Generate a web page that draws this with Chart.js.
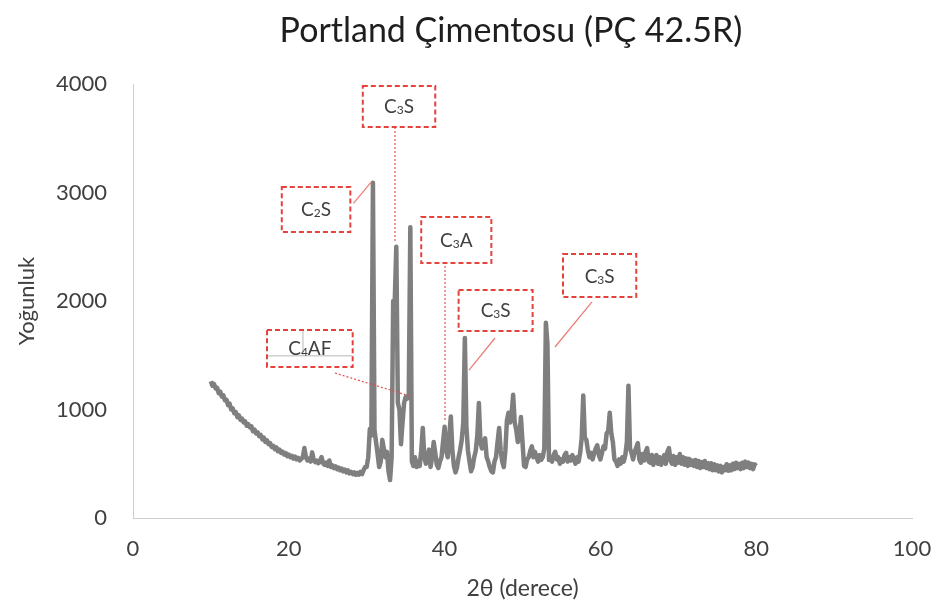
<!DOCTYPE html>
<html>
<head>
<meta charset="utf-8">
<script src="https://cdn.jsdelivr.net/npm/chart.js@4.4.1/dist/chart.umd.min.js"></script>
<style>
  html, body { margin: 0; padding: 0; background: #ffffff; }
  #wrap { width: 938px; height: 610px; }
</style>
</head>
<body>
<div id="wrap"><canvas id="c" width="938" height="610"></canvas></div>
<script>
// ---- chart text ----
const chartTitle = 'Portland Çimentosu (PÇ 42.5R)';
const xAxisTitle = '2θ (derece)';
const yAxisTitle = 'Yoğunluk';

// ---- axis ticks ----
const xTicks = [0, 20, 40, 60, 80, 100];
const yTicks = [0, 1000, 2000, 3000, 4000];

// ---- measurement grid (2θ, degrees) ----
const angleStart = 10;
const angleStep = 0.2;

// ---- intensity, one row per 2 degrees (10.0 ... 80.0) ----
const intensity = [
  1260,1220,1235,1195,1200,1150,1165,1120,1130,1085, // 10
  1090,1040,1055,1000,1010, 965, 975, 930, 945, 905, // 12
   915, 880, 890, 850, 865, 835, 845, 800, 815, 780, // 14
   790, 755, 765, 725, 740, 700, 715, 680, 690, 655, // 16
   665, 635, 650, 615, 630, 600, 612, 585, 598, 570, // 18
   585, 560, 572, 548, 565, 540, 555, 530, 545, 560, // 20
   645, 560, 530, 548, 520, 605, 535, 515, 528, 505, // 22
   520, 562, 505, 490, 510, 480, 530, 470, 485, 460, // 24
   475, 450, 465, 440, 455, 430, 445, 420, 438, 412, // 26
   425, 405, 420, 398, 415, 400, 425, 405, 440, 470, // 28
   470, 560, 820, 760,3090, 810, 700, 590, 470, 520, // 30
   720, 640, 560, 610, 430, 350, 560,2000,1990,2500, // 32
  1060,1000, 680, 880,1060,1115,1100,1140,2680, 520, // 34
   480, 560, 470, 520, 480, 620, 830, 560, 500, 560, // 36
   630, 470, 560, 700, 600, 490, 460, 520, 560, 700, // 38
   840, 620, 560, 760, 935, 620, 480, 420, 470, 560, // 40
   630, 720, 880,1660, 840, 620, 520, 430, 470, 560, // 42
   620, 760,1060, 700, 640, 700, 735, 560, 520, 470, // 44
   430, 420, 520, 560, 700, 830, 620, 520, 470, 620, // 46
   900, 970, 880, 960,1135, 880, 810, 700, 760, 930, // 48
   700, 480, 470, 540, 560, 620, 660, 560, 610, 560, // 50
   520, 580, 535, 560, 640,1800,1610, 535, 560, 520, // 52
   580, 610, 540, 560, 500, 540, 520, 580, 600, 520, // 54
   560, 530, 580, 540, 500, 560, 520, 600, 740,1130, // 56
   740, 720, 620, 560, 600, 540, 600, 640, 670, 580, // 58
   540, 600, 660, 640, 780, 800, 970, 780, 700, 540, // 60
   520, 480, 540, 500, 560, 520, 580, 700,1220, 640, // 62
   600, 540, 610, 650, 690, 540, 510, 590, 530, 610, // 64
   645, 520, 510, 580, 490, 560, 580, 500, 560, 490, // 66
   540, 580, 500, 610, 645, 530, 500, 570, 490, 560, // 68
   510, 590, 500, 560, 490, 550, 480, 545, 490, 530, // 70
   480, 535, 470, 525, 460, 515, 470, 525, 460, 505, // 72
   450, 505, 440, 495, 440, 485, 430, 480, 420, 470, // 74
   440, 495, 435, 485, 440, 500, 450, 510, 460, 500, // 76
   450, 510, 460, 520, 470, 510, 460, 500, 450, 495, // 78
   480                                               // 80
];

// ---- phase labels ----
const phaseNames = [
  ['C', '3', 'S'],
  ['C', '2', 'S'],
  ['C', '3', 'A'],
  ['C', '3', 'S'],
  ['C', '3', 'S'],
  ['C', '4', 'AF']
];

// ---- annotation layout (data coordinates) ----
const boxLayout = [
  { x1: 29.5, x2: 38.8, y1: 3604, y2: 3982 },
  { x1: 19.1, x2: 27.9, y1: 2636, y2: 3051 },
  { x1: 37.0, x2: 46.0, y1: 2350, y2: 2774 },
  { x1: 41.8, x2: 51.3, y1: 1724, y2: 2101 },
  { x1: 55.2, x2: 64.6, y1: 2037, y2: 2433 },
  { x1: 17.2, x2: 28.2, y1: 1392, y2: 1733 }
];
const leaderLayout = [
  { from: [33.63, 3604], to: [33.63, 2535], dotted: true },
  { from: [28.3, 2900], to: [30.6, 3097], dotted: false },
  { from: [40.05, 2323], to: [40.05, 885], dotted: true },
  { from: [46.47, 1659], to: [43.13, 1364], dotted: false },
  { from: [58.92, 1991], to: [54.17, 1576], dotted: false },
  { from: [25.93, 1336], to: [35.56, 1124], dotted: true }
];

const FONT = 'Lato, "Open Sans", "DejaVu Sans", sans-serif';

const points = intensity.map((v, i) => ({ x: +(angleStart + i * angleStep).toFixed(1), y: v }));

const bgPlugin = {
  id: 'bg',
  beforeDraw(chart) {
    const ctx = chart.ctx;
    ctx.save();
    ctx.fillStyle = '#ffffff';
    ctx.fillRect(0, 0, chart.width, chart.height);
    ctx.restore();
  }
};

const titlePlugin = {
  id: 'customTitle',
  afterDraw(chart) {
    const ctx = chart.ctx;
    ctx.save();
    ctx.font = '34px ' + FONT;
    ctx.fillStyle = '#1e1e1e';
    ctx.textAlign = 'center';
    ctx.textBaseline = 'middle';
    ctx.fillText(chartTitle, 511, 31);
    ctx.restore();
  }
};

const annotationPlugin = {
  id: 'phaseLabels',
  afterDatasetsDraw(chart) {
    const ctx = chart.ctx;
    const xs = chart.scales.x, ys = chart.scales.y;
    ctx.save();
    // leader lines
    leaderLayout.forEach(l => {
      ctx.beginPath();
      ctx.lineWidth = 1.2;
      ctx.strokeStyle = l.dotted ? '#e0504a' : '#ec7a76';
      ctx.setLineDash(l.dotted ? [2, 2] : []);
      ctx.moveTo(xs.getPixelForValue(l.from[0]), ys.getPixelForValue(l.from[1]));
      ctx.lineTo(xs.getPixelForValue(l.to[0]), ys.getPixelForValue(l.to[1]));
      ctx.stroke();
    });
    // boxes
    boxLayout.forEach((b, i) => {
      const left = xs.getPixelForValue(b.x1), right = xs.getPixelForValue(b.x2);
      const top = ys.getPixelForValue(b.y2), bottom = ys.getPixelForValue(b.y1);
      ctx.setLineDash([]);
      ctx.fillStyle = '#ffffff';
      ctx.fillRect(left, top, right - left, bottom - top);
      if (i === 5) {
        // faint guide lines visible inside the C4AF label in the original
        ctx.beginPath();
        ctx.lineWidth = 1;
        ctx.strokeStyle = '#b8b8b8';
        const gy = top + (bottom - top) * 0.7;
        const gx = left + (right - left) * 0.42;
        ctx.moveTo(left, gy); ctx.lineTo(right, gy);
        ctx.moveTo(gx, top); ctx.lineTo(gx, gy);
        ctx.stroke();
      }
      ctx.beginPath();
      ctx.lineWidth = 2;
      ctx.strokeStyle = '#e5423c';
      ctx.setLineDash([5, 3]);
      ctx.rect(left, top, right - left, bottom - top);
      ctx.stroke();
      // text with subscript
      const [a, s, c] = phaseNames[i];
      const big = '19px ' + FONT, small = '12px ' + FONT;
      ctx.font = big; const wa = ctx.measureText(a).width; const wc = ctx.measureText(c).width;
      ctx.font = small; const ws = ctx.measureText(s).width;
      const total = wa + ws + wc;
      let x = (left + right) / 2 - total / 2;
      const y = (top + bottom) / 2 + 7;
      ctx.fillStyle = '#404040';
      ctx.textAlign = 'left';
      ctx.textBaseline = 'alphabetic';
      ctx.font = big; ctx.fillText(a, x, y); x += wa;
      ctx.font = small; ctx.fillText(s, x, y + 1); x += ws;
      ctx.font = big; ctx.fillText(c, x, y);
    });
    ctx.restore();
  }
};

new Chart(document.getElementById('c'), {
  type: 'line',
  data: {
    datasets: [{
      data: points,
      borderColor: '#7f7f7f',
      borderWidth: 4.5,
      borderJoinStyle: 'round',
      pointRadius: 0,
      tension: 0,
      fill: false
    }]
  },
  options: {
    responsive: false,
    animation: false,
    devicePixelRatio: 1,
    layout: { padding: { left: 10, right: 26, top: 84, bottom: 4 } },
    plugins: {
      legend: { display: false },
      title: { display: false },
      tooltip: { enabled: false }
    },
    scales: {
      x: {
        type: 'linear',
        min: xTicks[0],
        max: xTicks[xTicks.length - 1],
        afterBuildTicks(s) { s.ticks = xTicks.map(v => ({ value: v })); },
        afterFit(s) { s.height = 88; s.paddingLeft = 0; s.paddingRight = 0; },
        grid: { display: false, drawTicks: false },
        border: { display: true, color: '#cfcfcf', width: 1 },
        ticks: { padding: 18, color: '#404040', font: { family: FONT, size: 22 }, maxRotation: 0, callback: v => String(v) },
        title: { display: true, text: xAxisTitle, color: '#404040', font: { family: FONT, size: 23 }, padding: { top: 4, bottom: 4 } }
      },
      y: {
        type: 'linear',
        min: yTicks[0],
        max: yTicks[yTicks.length - 1],
        afterBuildTicks(s) { s.ticks = yTicks.map(v => ({ value: v })); },
        afterFit(s) { s.width = 123; s.paddingTop = 0; s.paddingBottom = 0; },
        grid: { display: false, drawTicks: false },
        border: { display: true, color: '#cfcfcf', width: 1 },
        ticks: { padding: 26, color: '#404040', font: { family: FONT, size: 22 }, callback: v => String(v) },
        title: { display: true, text: yAxisTitle, color: '#404040', font: { family: FONT, size: 22 }, padding: { top: 4, bottom: 4 } }
      }
    }
  },
  plugins: [bgPlugin, annotationPlugin, titlePlugin]
});
</script>
</body>
</html>
